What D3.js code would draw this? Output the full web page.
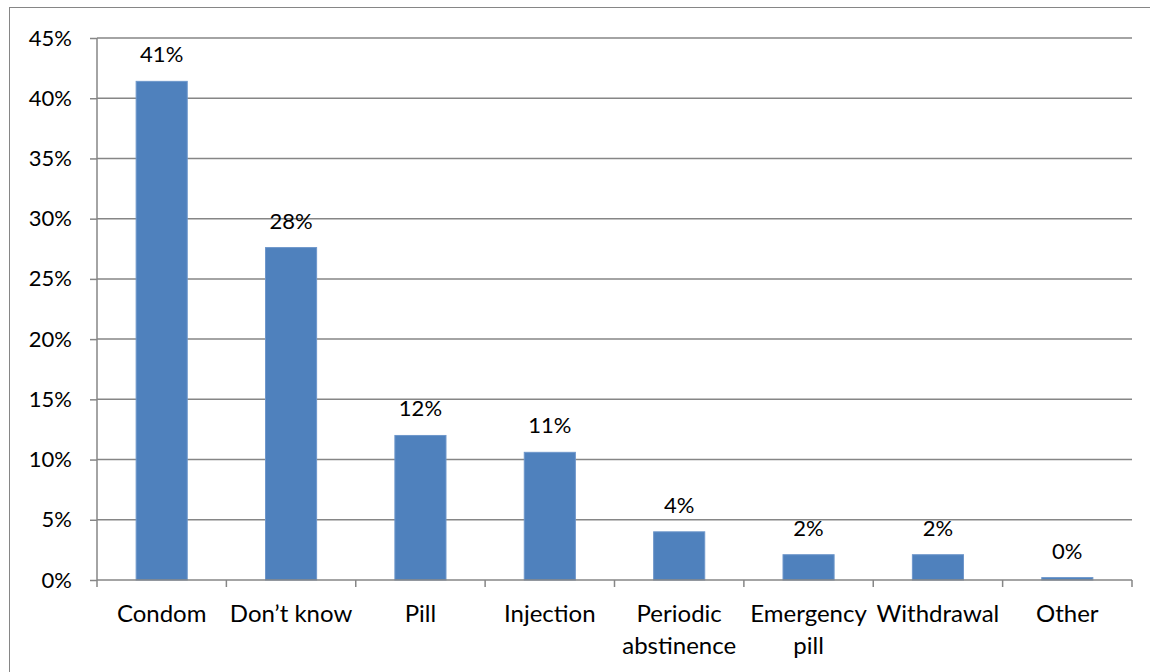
<!DOCTYPE html>
<html>
<head>
<meta charset="utf-8">
<script src="https://cdn.jsdelivr.net/npm/d3@7"></script>
<style>
  html, body { margin: 0; padding: 0; background: #fff; }
  svg { display: block; }
  text { font-family: Lato, "Open Sans", sans-serif; fill: #000; }
</style>
</head>
<body>
<svg id="chart" width="1150" height="672"></svg>
<script>
// Contraceptive methods: share of respondents
const categories = ["Condom", "Don\u2019t know", "Pill", "Injection", "Periodic abstinence", "Emergency pill", "Withdrawal", "Other"];
const shares = [0.414, 0.276, 0.120, 0.106, 0.040, 0.021, 0.021, 0.002];
const yTicks = [0, 0.05, 0.10, 0.15, 0.20, 0.25, 0.30, 0.35, 0.40, 0.45];

const svg = d3.select("#chart");
const W = 1150, H = 672;
const plot = { left: 97, right: 1132, top: 38, bottom: 580 };
const numSize = "22px";
const catSize = "24px";

// outer chart frame
svg.append("rect")
  .attr("x", 9.5).attr("y", 7.5)
  .attr("width", W + 20).attr("height", H + 20)
  .attr("fill", "none").attr("stroke", "#868686").attr("stroke-width", 1);

const x = d3.scaleBand().domain(categories).range([plot.left, plot.right]).paddingInner(0.605).paddingOuter(0.3025);
const xOuter = d3.scaleBand().domain(categories).range([plot.left, plot.right]);
const y = d3.scaleLinear().domain([0, 0.45]).range([plot.bottom, plot.top]);

// left ticks and labels
const yAxis = d3.axisLeft(y).tickValues(yTicks).tickFormat(d3.format(".0%")).tickSize(7).tickPadding(18);
const gy = svg.append("g").attr("transform", `translate(${plot.left},0)`).call(yAxis);
gy.select(".domain").remove();
gy.selectAll(".tick line").attr("stroke", "#868686").attr("stroke-width", 1.5);
gy.selectAll(".tick text").style("font-size", numSize).style("font-family", "Lato, sans-serif").attr("fill", "#000");

// horizontal gridlines
svg.append("g").selectAll("line").data(yTicks.filter(d => d > 0)).join("line")
  .attr("x1", plot.left).attr("x2", plot.right)
  .attr("y1", d => y(d)).attr("y2", d => y(d))
  .attr("stroke", "#868686").attr("stroke-width", 1.5);

// bars
svg.append("g").selectAll("rect").data(categories).join("rect")
  .attr("x", d => x(d))
  .attr("width", x.bandwidth())
  .attr("y", (d, i) => y(shares[i]))
  .attr("height", (d, i) => y(0) - y(shares[i]))
  .attr("fill", "#4F81BD")
  .attr("stroke", "#6E97CB").attr("stroke-width", 1);

// value labels
svg.append("g").selectAll("text").data(categories).join("text")
  .attr("x", d => x(d) + x.bandwidth() / 2)
  .attr("y", (d, i) => y(shares[i]) - 19)
  .attr("text-anchor", "middle")
  .style("font-size", numSize)
  .text((d, i) => d3.format(".0%")(shares[i]));

// vertical axis line
svg.append("line")
  .attr("x1", plot.left).attr("x2", plot.left)
  .attr("y1", plot.top).attr("y2", plot.bottom)
  .attr("stroke", "#868686").attr("stroke-width", 1.5);

// category axis with boundary ticks
const bounds = categories.map(c => xOuter(c)).concat([plot.right]);
svg.append("line")
  .attr("x1", plot.left).attr("x2", plot.right)
  .attr("y1", plot.bottom).attr("y2", plot.bottom)
  .attr("stroke", "#868686").attr("stroke-width", 1.5);
svg.append("g").selectAll("line").data(bounds).join("line")
  .attr("x1", d => d).attr("x2", d => d)
  .attr("y1", plot.bottom).attr("y2", plot.bottom + 7)
  .attr("stroke", "#868686").attr("stroke-width", 1.5);

// category labels, wrapped onto two lines where needed
const wrapped = {
  "Periodic abstinence": ["Periodic", "abstinence"],
  "Emergency pill": ["Emergency", "pill"]
};
const catLabels = svg.append("g").selectAll("text").data(categories).join("text")
  .attr("x", d => xOuter(d) + xOuter.bandwidth() / 2)
  .attr("y", 622)
  .attr("text-anchor", "middle")
  .style("font-size", catSize);
catLabels.each(function(d) {
  const lines = wrapped[d] || [d];
  const t = d3.select(this);
  lines.forEach((ln, i) => {
    t.append("tspan")
      .attr("x", xOuter(d) + xOuter.bandwidth() / 2)
      .attr("dy", i === 0 ? 0 : 32)
      .text(ln);
  });
});
</script>
</body>
</html>
